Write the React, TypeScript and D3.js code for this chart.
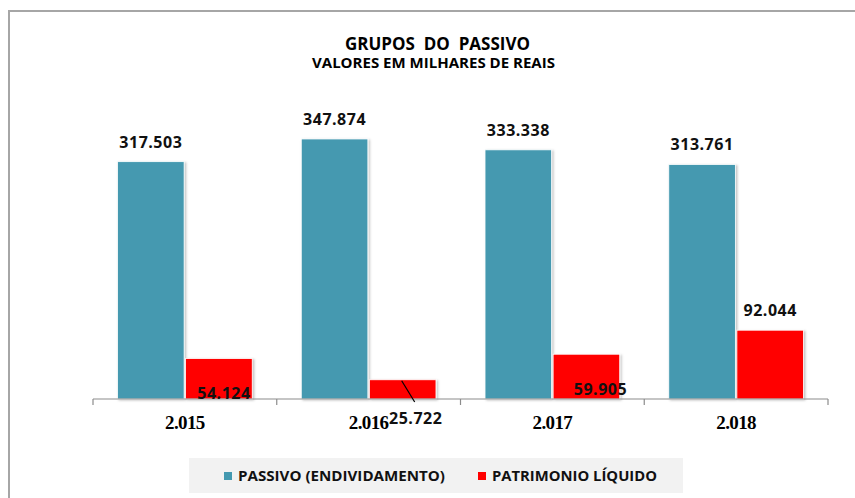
import React, { useEffect, useRef } from "react";
import * as d3 from "d3";

// chart data
const years = ["2.015", "2.016", "2.017", "2.018"];
const seriesNames = ["PASSIVO (ENDIVIDAMENTO)", "PATRIMONIO LÍQUIDO"];
const passivo = [317.503, 347.874, 333.338, 313.761];
const patrimonio = [54.124, 25.722, 59.905, 92.044];
const seriesColors = ["#4499b0", "#ff0000"];

// hand-moved data labels of the red series (pixels from the default spot)
const redLabelNudge = [
  [5, 54],
  [13, 58],
  [14, 55],
  [0, 0],
];

const fmt = (v: number) => v.toFixed(3);

export default function App() {
  const ref = useRef<SVGSVGElement>(null);

  useEffect(() => {
    const W = 855;
    const H = 498;
    const svg = d3.select(ref.current);
    svg.selectAll("*").remove();
    svg.attr("width", W).attr("height", H);

    svg.append("rect").attr("width", W).attr("height", H).attr("fill", "#fff");

    // outer frame (only top and left edges are visible)
    svg
      .append("path")
      .attr("d", `M9,${H + 5} V11 H${W + 5}`)
      .attr("fill", "none")
      .attr("stroke", "#a6a6a6")
      .attr("stroke-width", 2);

    const defs = svg.append("defs");
    const f = defs
      .append("filter")
      .attr("id", "shadow")
      .attr("x", "-10%")
      .attr("y", "-10%")
      .attr("width", "130%")
      .attr("height", "130%");
    f.append("feDropShadow")
      .attr("dx", 1.5)
      .attr("dy", 1)
      .attr("stdDeviation", 1)
      .attr("flood-color", "#000")
      .attr("flood-opacity", 0.25);

    const baseY = 399;
    const x0 = d3.scaleBand().domain(years).range([93, 828]).padding(0);
    const x1 = d3
      .scaleBand()
      .domain(seriesNames)
      .range([0, x0.bandwidth()])
      .paddingInner(0.022)
      .paddingOuter(0.36);
    const y = d3.scaleLinear().domain([0, 400]).range([baseY, 100]);

    const font = "'Open Sans', 'DejaVu Sans', sans-serif";

    // titles
    svg
      .append("text")
      .attr("x", 437.5)
      .attr("y", 50)
      .attr("text-anchor", "middle")
      .attr("textLength", 185)
      .attr("lengthAdjust", "spacingAndGlyphs")
      .style("white-space", "pre")
      .style("font-family", font)
      .style("font-weight", 700)
      .style("font-size", "17.5px")
      .text("GRUPOS  DO  PASSIVO");

    svg
      .append("text")
      .attr("x", 433.5)
      .attr("y", 68)
      .attr("text-anchor", "middle")
      .attr("textLength", 243)
      .attr("lengthAdjust", "spacingAndGlyphs")
      .style("font-family", font)
      .style("font-weight", 700)
      .style("font-size", "14px")
      .text("VALORES EM MILHARES DE REAIS");

    const seriesData = [passivo, patrimonio];
    const groups = svg
      .selectAll("g.year")
      .data(years)
      .join("g")
      .attr("class", "year")
      .attr("transform", (d) => `translate(${x0(d)},0)`);

    seriesNames.forEach((s, si) => {
      groups
        .append("rect")
        .attr("x", x1(s)!)
        .attr("width", x1.bandwidth())
        .attr("y", (_, i) => y(seriesData[si][i]))
        .attr("height", (_, i) => baseY - y(seriesData[si][i]))
        .attr("fill", seriesColors[si])
        .attr("stroke", "#fff")
        .attr("stroke-width", 0.8)
        .attr("filter", "url(#shadow)");
    });

    // axis line and ticks at band edges
    const axis = svg.append("g").attr("stroke", "#8c8c8c").attr("stroke-width", 1.2);
    axis
      .append("line")
      .attr("x1", x0.range()[0])
      .attr("x2", x0.range()[1])
      .attr("y1", baseY)
      .attr("y2", baseY);
    const edges = years.map((d) => x0(d)!).concat([x0.range()[1]]);
    axis
      .selectAll("line.tick")
      .data(edges)
      .join("line")
      .attr("class", "tick")
      .attr("x1", (d) => d)
      .attr("x2", (d) => d)
      .attr("y1", baseY)
      .attr("y2", baseY + 6);

    // category labels
    svg
      .selectAll("text.cat")
      .data(years)
      .join("text")
      .attr("class", "cat")
      .attr("x", (d) => x0(d)! + x0.bandwidth() / 2)
      .attr("y", 429)
      .attr("text-anchor", "middle")
      .style("font-family", "'Liberation Serif', 'DejaVu Serif', serif")
      .style("font-weight", 700)
      .style("font-size", "19px")
      .style("letter-spacing", "-0.6px")
      .text((d) => d);

    const labelStyle = (sel: any) =>
      sel
        .attr("text-anchor", "middle")
        .style("font-family", font)
        .style("font-weight", 700)
        .style("font-size", "16px")
        .style("letter-spacing", "0.5px")
        .attr("fill", "#111");

    // passivo labels
    svg
      .selectAll("text.lbl0")
      .data(passivo)
      .join("text")
      .attr("class", "lbl0")
      .attr("x", (_, i) => x0(years[i])! + x1(seriesNames[0])! + x1.bandwidth() / 2)
      .attr("y", (d) => y(d) - 14)
      .call(labelStyle)
      .text((d) => fmt(d));

    // patrimonio labels
    svg
      .selectAll("text.lbl1")
      .data(patrimonio)
      .join("text")
      .attr("class", "lbl1")
      .attr(
        "x",
        (_, i) => x0(years[i])! + x1(seriesNames[1])! + x1.bandwidth() / 2 + redLabelNudge[i][0]
      )
      .attr("y", (d, i) => y(d) - 14 + redLabelNudge[i][1])
      .call(labelStyle)
      .text((d) => fmt(d));

    // leader line for the moved 2016 label
    const cx16 = x0(years[1])! + x1(seriesNames[1])! + x1.bandwidth() / 2;
    svg
      .append("line")
      .attr("x1", cx16 - 1)
      .attr("y1", y(patrimonio[1]) + 1)
      .attr("x2", cx16 + 12)
      .attr("y2", baseY + 3)
      .attr("stroke", "#000")
      .attr("stroke-width", 1.2);

    // legend
    const leg = svg.append("g");
    leg
      .append("rect")
      .attr("x", 189)
      .attr("y", 458)
      .attr("width", 494)
      .attr("height", 35)
      .attr("fill", "#f2f2f2");
    const legX = [224, 478];
    const legW = [207, 165];
    seriesNames.forEach((s, i) => {
      leg
        .append("rect")
        .attr("x", legX[i])
        .attr("y", 472)
        .attr("width", 8)
        .attr("height", 8)
        .attr("fill", seriesColors[i]);
      leg
        .append("text")
        .attr("x", legX[i] + 14)
        .attr("y", 481)
        .attr("textLength", legW[i])
        .attr("lengthAdjust", "spacingAndGlyphs")
        .style("font-family", font)
        .style("font-weight", 700)
        .style("font-size", "13.5px")
        .attr("fill", "#111")
        .text(s);
    });
  }, []);

  return (
    <div style={{ position: "absolute", left: 0, top: 0 }}>
      <svg ref={ref} style={{ display: "block" }} />
    </div>
  );
}
